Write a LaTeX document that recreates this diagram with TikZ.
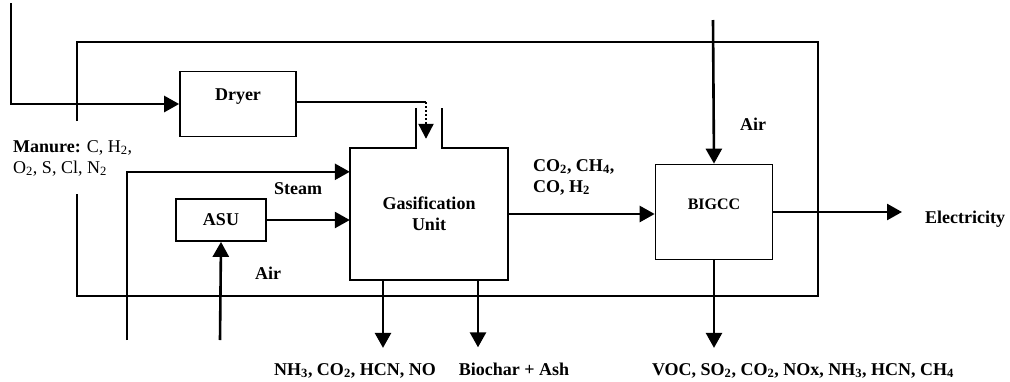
\documentclass[tikz,border=0pt]{standalone}
\usepackage{fontspec}
\setmainfont{Liberation Serif}
\usetikzlibrary{positioning, arrows.meta, calc}
\newcommand{\low}[1]{\textsubscript{#1}}

\begin{document}
\begin{tikzpicture}[x=1pt, y=-1pt,
        every node/.style={font=\fontsize{18}{21}\selectfont\bfseries, inner sep=0pt},
        unit/.style={draw, line width=1.7pt, align=center},
        arr/.style={-{Triangle[length=15pt, width=16pt]}, line width=2.6pt},
        toout/.style={arr, shorten >=15pt},
        thinln/.style={line width=1.4pt},
        dotarr/.style={-{Triangle[length=15pt, width=15pt]}, line width=2.2pt, dash pattern=on 2pt off 2pt}]
      \useasboundingbox (0,0) rectangle (1010,381);

      % units
      \node[unit, minimum width=116pt, minimum height=65pt,
            label={[yshift=7pt]center:Dryer}] (dryer) at (238,104) {};
      \node[unit, minimum width=90pt, minimum height=42pt] (asu) at (221,220) {ASU};
      \node[align=center, minimum width=158pt, minimum height=132pt] (gas) at (429,214) {Gasification\\Unit};
      \node[unit, minimum width=117pt, minimum height=95pt,
            label={[yshift=8pt, font=\fontsize{16}{18}\selectfont\bfseries]center:BIGCC}] (bigcc) at (714,212) {};

      % gasifier outline with feed hopper
      \draw[unit] ([xshift=66pt, yshift=40pt]gas.north west) -- ([xshift=66pt]gas.north west)
        -- (gas.north west) -- (gas.south west) -- (gas.south east) -- (gas.north east)
        -- ([xshift=92pt]gas.north west) -- ++(0,-40);

      % plant boundary
      \draw[thinln] (77,121) -- (77,42) -- (818,42) -- (818,296) -- (77,296) -- (77,194);

      % labels
      \node[anchor=west, align=left] (manure) at (13,158)
        {Manure: \mdseries C, H\low{2},\\\mdseries O\low{2}, S, Cl, N\low{2}};
      \node (steam) at (298,189) {Steam};
      \node (air1) at (268,273) {Air};
      \node (air2) at (753,124) {Air};
      \node[anchor=west, align=left] (syngas) at (533,177) {CO\low{2}, CH\low{4},\\CO, H\low{2}};
      \node[anchor=base west] (elec) at (925,223) {Electricity};
      \node[anchor=base] (nh3) at (355,375) {NH\low{3}, CO\low{2}, HCN, NO};
      \node[anchor=base] (char) at (514,375) {Biochar + Ash};
      \node[anchor=base] (voc) at (803,375) {VOC, SO\low{2}, CO\low{2}, NOx, NH\low{3}, HCN, CH\low{4}};

      \coordinate (mtop) at (11,3);
      \coordinate (feed) at (426,102);
      \coordinate (steamin) at (127,340);
      \coordinate (airasu) at (220,340);
      \coordinate (airtop) at (713,20);

      % streams
      \draw[arr] (mtop) |- (dryer.west);
      \draw[thinln] (dryer.east |- feed) -- (feed);
      \draw[dotarr] (feed) -- (feed |- gas.north) [shorten >=9pt];
      \draw[arr] (steamin) |- ([yshift=-24pt]gas.north west);
      \draw[arr] (airasu) -- (asu.south);
      \draw[arr] (asu.east) -- (asu.east -| gas.west);
      \draw[toout] ([xshift=-46pt]gas.south) -- ([xshift=-46pt]gas.south |- nh3.north);
      \draw[toout] ([xshift=49pt]gas.south) -- ([xshift=49pt]gas.south |- char.north);
      \draw[arr] (gas.east) -- (gas.east -| bigcc.west);
      \draw[arr] (airtop) -- (bigcc.north);
      \draw[arr, shorten >=23pt] (bigcc.east) -- (bigcc.east -| elec.west);
      \draw[toout] (bigcc.south) -- (bigcc.south |- voc.north);
    \end{tikzpicture}
\end{document}
